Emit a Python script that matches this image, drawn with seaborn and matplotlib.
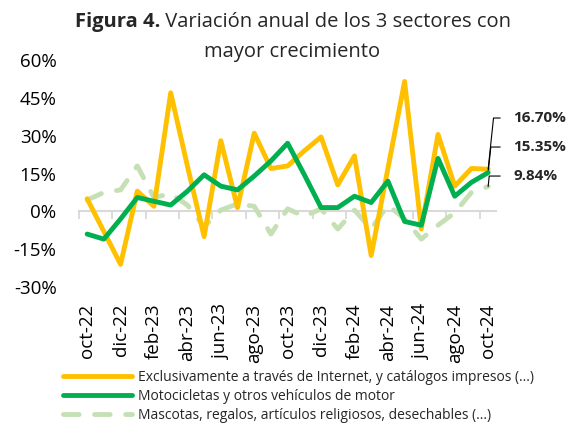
import numpy as np
import pandas as pd
import matplotlib
matplotlib.use("Agg")
import matplotlib.pyplot as plt
import seaborn as sns

# Monthly labels, oct-22 .. oct-24 (only every 2nd one is shown)
months = ["oct-22", "nov-22", "dic-22", "ene-23", "feb-23", "mar-23", "abr-23",
          "may-23", "jun-23", "jul-23", "ago-23", "sep-23", "oct-23", "nov-23",
          "dic-23", "ene-24", "feb-24", "mar-24", "abr-24", "may-24", "jun-24",
          "jul-24", "ago-24", "sep-24", "oct-24"]

# Annual variation (%) per sector
internet = [5, -8, -21, 8, 2, 47, 18, -10, 28, 1.5, 31, 17, 18, 24, 29.5,
            10.5, 22, -17.5, 17, 51.5, -7, 30.5, 10, 17, 16.70]
motos = [-9, -11, -3, 5.5, 4, 2.5, 8, 14.5, 10, 8.5, 14, 20, 27, 14.5, 1.5,
         1.5, 6, 3.5, 12, -4, -5.5, 21, 6, 11.5, 15.35]
mascotas = [4.5, 7.5, 8.5, 18, 5.5, 7, 2.5, -6, 0.5, 3, 2, -9, 1, -2, 1,
            -7, 0.5, -7, 2.5, -3, -11, -5.5, -0.5, 7.5, 9.84]

series_names = ["Exclusivamente a través de Internet, y catálogos impresos (...)",
                "Motocicletas y otros vehículos de motor",
                "Mascotas, regalos, artículos religiosos, desechables (...)"]
colors = ["#FFC000", "#00B050", "#C5E0B4"]

end_labels = ["16.70%", "15.35%", "9.84%"]
end_label_y = [37, 25.5, 14]

sns.set_style("white")
plt.rcParams["font.family"] = ["Open Sans", "DejaVu Sans"]

idx = np.arange(len(months))
df = pd.DataFrame({"idx": idx, "internet": internet, "motos": motos,
                   "mascotas": mascotas})

fig = plt.figure(figsize=(5.71, 4.24), dpi=100)
ax = fig.add_axes([0.138, 0.323, 0.7315, 0.5355])

sns.lineplot(data=df, x="idx", y="mascotas", ax=ax, color=colors[2], lw=3.5,
             label=series_names[2], zorder=2)
ax.lines[-1].set_dashes([3.2, 3.2])
ax.lines[-1].set_dash_capstyle("round")
sns.lineplot(data=df, x="idx", y="internet", ax=ax, color=colors[0], lw=3.5,
             label=series_names[0], zorder=3)
sns.lineplot(data=df, x="idx", y="motos", ax=ax, color=colors[1], lw=3.5,
             label=series_names[1], zorder=4)

ax.set_xlim(-0.5, 24.5)
ax.set_ylim(-30, 60)
ax.set_yticks(np.arange(-30, 61, 15))
ax.set_yticklabels([f"{v}%" for v in range(-30, 61, 15)])
ax.set_xticks(idx[::2])
ax.set_xticklabels(months[::2], rotation=90)
ax.tick_params(axis="both", length=0, labelsize=13.5, colors="black")
ax.tick_params(axis="x", pad=12)
ax.tick_params(axis="y", pad=16)
ax.set_xlabel("")
ax.set_ylabel("")
for s in ax.spines.values():
    s.set_visible(False)

# horizontal axis line at 0 with tick marks between category pairs
sec = ax.secondary_xaxis(1 / 3)
sec.set_xticks(np.arange(-0.5, 24, 2))
sec.set_xticklabels([])
sec.tick_params(length=6, width=1.3, color="#D9D9D9")
sec.spines["bottom"].set_color("#D9D9D9")
sec.spines["bottom"].set_linewidth(1.5)

# end-point labels with leader lines
last_vals = [internet[-1], motos[-1], mascotas[-1]]
for lab, ly, v in zip(end_labels, end_label_y, last_vals):
    ax.annotate(lab, xy=(24, v), xytext=(25.5, ly), fontsize=11,
                fontweight="bold", ha="left", va="center",
                annotation_clip=False,
                arrowprops=dict(arrowstyle="-", color="black", lw=0.8,
                                connectionstyle="angle,angleA=0,angleB=84,rad=0",
                                relpos=(0, 0.5), shrinkA=7, shrinkB=0))

# legend at the bottom
handles, labels = ax.get_legend_handles_labels()
order = [1, 2, 0]
ax.get_legend().remove()
fig.legend([handles[i] for i in order], [labels[i] for i in order],
           loc="upper left", bbox_to_anchor=(0.11, 0.128), frameon=False,
           fontsize=10, handlelength=5.0, handletextpad=0.4,
           labelspacing=0.28, borderpad=0, borderaxespad=0)

# title: bold prefix + normal text, centered
t1 = fig.text(0, 1 - 22 / 424, "Figura 4.", fontsize=14.5, fontweight="bold",
              va="center", ha="left")
t2 = fig.text(0, 1 - 22 / 424, " Variación anual de los 3 sectores con",
              fontsize=14.5, va="center", ha="left")
fig.canvas.draw()
r = fig.canvas.get_renderer()
w1 = t1.get_window_extent(r).width
w2 = t2.get_window_extent(r).width
x0 = 293 - (w1 + w2) / 2
t1.set_x(x0 / 571)
t2.set_x((x0 + w1) / 571)
fig.text(292 / 571, 1 - 52 / 424, "mayor crecimiento", fontsize=14.5,
         ha="center", va="center")

fig.savefig("out.png", dpi=100)
